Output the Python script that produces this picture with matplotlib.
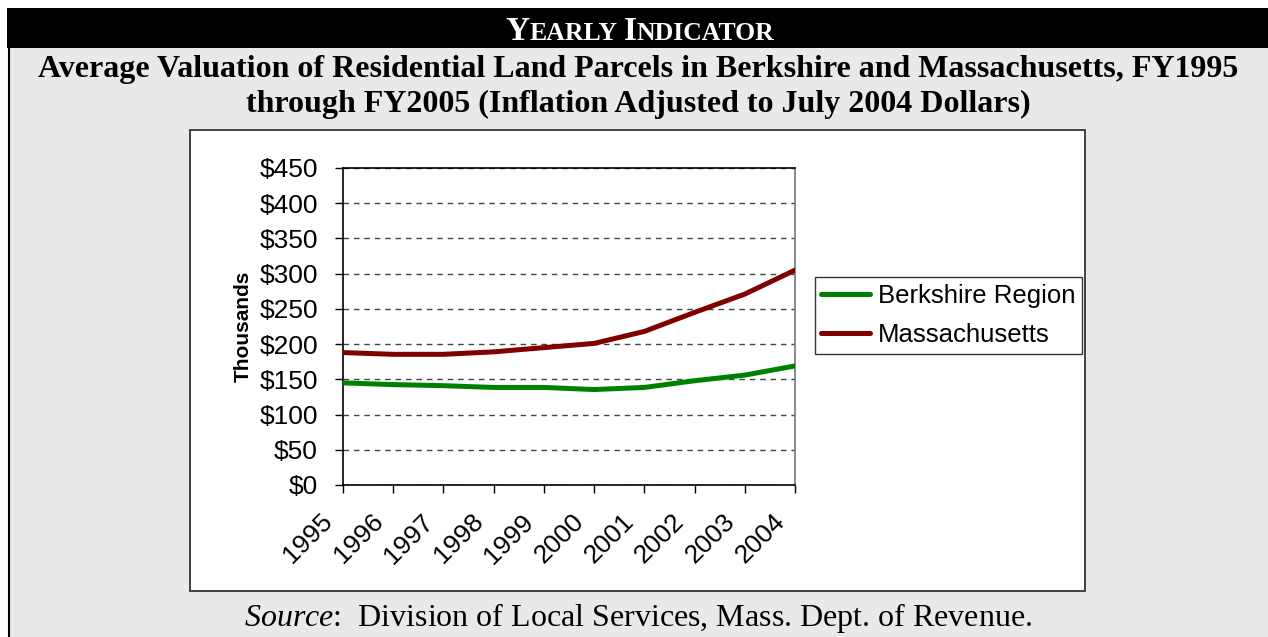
import matplotlib
matplotlib.use("Agg")
import matplotlib.pyplot as plt
import matplotlib.transforms as mtransforms
from matplotlib.patches import Rectangle
from matplotlib.lines import Line2D
from matplotlib.offsetbox import TextArea, HPacker, AnchoredOffsetbox

# Дані з графіка (тисячі доларів)
years = ['1995', '1996', '1997', '1998', '1999', '2000', '2001', '2002', '2003', '2004']
berkshire = [145, 142.5, 141, 138.5, 138.5, 135.5, 138.5, 148, 156, 169]
massachusetts = [188, 185.5, 185.5, 189, 195, 201, 218, 245, 271, 305]
y_ticks = [0, 50, 100, 150, 200, 250, 300, 350, 400, 450]
y_tick_labels = ['$' + str(v) for v in y_ticks]

serif = 'Liberation Serif'
sans = 'Liberation Sans'
plt.rcParams['mathtext.fontset'] = 'custom'
plt.rcParams['mathtext.rm'] = serif
plt.rcParams['mathtext.it'] = serif + ':italic'

W, H = 1268, 637
fig = plt.figure(figsize=(W / 100, H / 100), dpi=100)
fig.patch.set_facecolor('white')

def fx(px):
    return px / W

def fy(py):
    return 1 - py / H

# Фон: сіра панель, чорна смуга заголовка, біла область графіка
fig.add_artist(Rectangle((fx(8), 0), fx(1262), fy(48), transform=fig.transFigure,
                         facecolor='#e9e9e9', edgecolor='none', zorder=0))
fig.add_artist(Rectangle((fx(7), fy(48)), fx(1261), fy(8) - fy(48), transform=fig.transFigure,
                         facecolor='black', edgecolor='none', zorder=0))
fig.add_artist(Line2D([fx(8.5), fx(8.5)], [0, fy(48)], transform=fig.transFigure,
                      color='black', lw=1.5, zorder=1))
fig.add_artist(Rectangle((fx(190), fy(591)), fx(1085 - 190), fy(130) - fy(591), transform=fig.transFigure,
                         facecolor='white', edgecolor='#333333', lw=1.3, zorder=0))

# Заголовок YEARLY INDICATOR (капітелі)
parts = [('Y', 24), ('EARLY', 18.5), (' ', 18.5), ('I', 24), ('NDICATOR', 18.5)]
boxes = [TextArea(s, textprops=dict(color='white', fontsize=sz, fontweight='bold', family=serif))
         for s, sz in parts]
pack = HPacker(children=boxes, align='baseline', pad=0, sep=0)
header = AnchoredOffsetbox(loc='center', child=pack, frameon=False, pad=0, borderpad=0,
                           bbox_to_anchor=(fx(640), fy(31)), bbox_transform=fig.transFigure)
fig.add_artist(header)

fig.text(fx(638), fy(70), 'Average Valuation of Residential Land Parcels in Berkshire and Massachusetts, FY1995',
         ha='center', va='center', fontsize=23, fontweight='bold', family=serif)
fig.text(fx(638), fy(104), 'through FY2005 (Inflation Adjusted to July 2004 Dollars)',
         ha='center', va='center', fontsize=23, fontweight='bold', family=serif)
fig.text(fx(638), fy(618), '$\\mathit{Source}$:  Division of Local Services, Mass. Dept. of Revenue.',
         ha='center', va='center', fontsize=23, family=serif)

# Графік
ax = fig.add_axes([fx(343), fy(485), fx(795 - 343), fy(168) - fy(485)])
x = range(len(years))
ax.plot(x, berkshire, color='#008000', lw=3.6, label='Berkshire Region', solid_capstyle='round', zorder=3)
ax.plot(x, massachusetts, color='#800000', lw=3.6, label='Massachusetts', solid_capstyle='round', zorder=3)

ax.set_xlim(0, len(years) - 1)
ax.set_ylim(0, 450)
ax.set_yticks(y_ticks)
ax.set_yticklabels(y_tick_labels, fontsize=19, family=sans)
ax.set_xticks(list(x))
ax.set_xticklabels([])
# підписи років, зсунуті вліво-вниз від поділок, як в Excel
base = mtransforms.blended_transform_factory(ax.transData, ax.transAxes)
shift = mtransforms.ScaledTranslation(-14 / 100, -33 / 100, fig.dpi_scale_trans)
for i, yr in zip(x, years):
    ax.text(i, 0, yr, transform=base + shift, fontsize=19, family=sans, rotation=45,
            ha='right', va='center', rotation_mode='anchor', clip_on=False)
ax.tick_params(axis='both', direction='out', length=6, width=1, color='black')
ax.tick_params(axis='y', pad=12)
ax.yaxis.grid(True, color='#444444', lw=1, linestyle=(0, (4, 3.5)))
ax.set_axisbelow(True)
for side in ['left', 'bottom', 'top']:
    ax.spines[side].set_color('black')
    ax.spines[side].set_linewidth(1.2)
ax.spines['right'].set_color('#777777')
ax.spines['right'].set_linewidth(1.2)
ax.set_ylabel('Thousands', fontsize=15, fontweight='bold', family=sans, labelpad=5)

leg = fig.legend(loc='center left', bbox_to_anchor=(fx(815), fy(315.5)), bbox_transform=fig.transFigure,
                 frameon=True, fancybox=False, handlelength=1.9, handletextpad=0.3,
                 borderpad=0.25, labelspacing=0.6, borderaxespad=0, prop={'family': sans, 'size': 18.5})
leg.get_frame().set_edgecolor('black')
leg.get_frame().set_linewidth(1)

fig.savefig('out.png', dpi=100)
